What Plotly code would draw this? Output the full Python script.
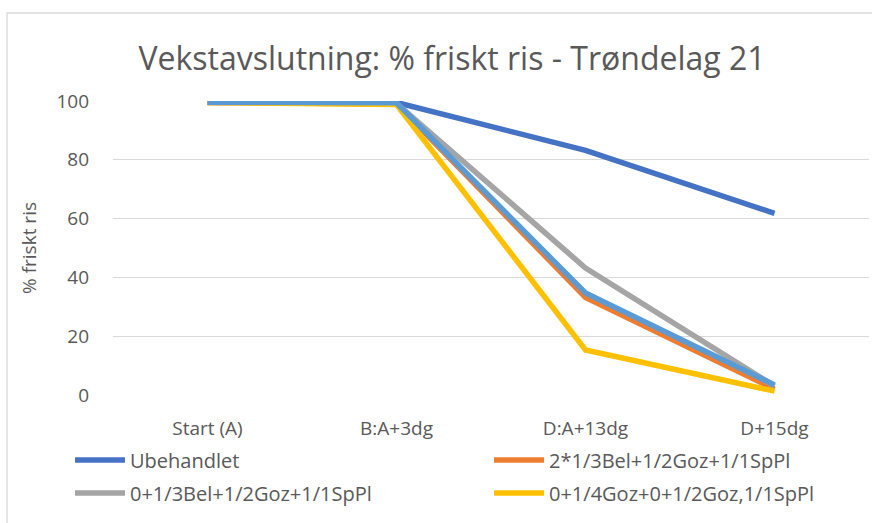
import plotly.graph_objects as go

categories = ["Start (A)", "B:A+3dg", "D:A+13dg", "D+15dg"]
ubehandlet = [99.6, 99.5, 83.2, 61.8]
serie_2bel = [99.5, 99.0, 33.2, 2.0]
serie_0bel = [99.5, 99.2, 43.2, 3.0]
serie_4goz = [99.5, 98.8, 15.3, 1.3]
serie_5 = [99.6, 99.4, 34.7, 3.4]

names = ["Ubehandlet", "2*1/3Bel+1/2Goz+1/1SpPl", "0+1/3Bel+1/2Goz+1/1SpPl", "0+1/4Goz+0+1/2Goz,1/1SpPl"]
y_ticks = [0, 20, 40, 60, 80, 100]

FONT = "Open Sans"
TXT = "#595959"
LW = 5.5

fig = go.Figure()
fig.add_trace(go.Scatter(x=categories, y=ubehandlet, name=names[0], mode="lines",
                         line=dict(color="#4472C4", width=LW), legend="legend"))
fig.add_trace(go.Scatter(x=categories, y=serie_2bel, name=names[1], mode="lines",
                         line=dict(color="#ED7D31", width=LW), legend="legend2"))
fig.add_trace(go.Scatter(x=categories, y=serie_0bel, name=names[2], mode="lines",
                         line=dict(color="#A5A5A5", width=LW), legend="legend3"))
fig.add_trace(go.Scatter(x=categories, y=serie_4goz, name=names[3], mode="lines",
                         line=dict(color="#FFC000", width=LW), legend="legend4"))
fig.add_trace(go.Scatter(x=categories, y=serie_5, name="Serie5", mode="lines",
                         line=dict(color="#5B9BD5", width=LW), showlegend=False))

L, R, T, B = 113, 3, 101, 128
W, H = 872, 523
pw, ph = W - L - R, H - T - B

def px(x):
    return (x - L) / pw

def py(y):
    return (H - B - y) / ph

def cx(x):
    return x / W

def cy(y):
    return 1 - y / H

leg_common = dict(orientation="h", xref="container", yref="container", xanchor="left", yanchor="middle",
                  font=dict(size=20, color=TXT), bgcolor="rgba(0,0,0,0)", itemwidth=50, borderwidth=0)

fig.update_layout(
    width=W, height=H,
    margin=dict(l=L, r=R, t=T, b=B, autoexpand=False),
    paper_bgcolor="white", plot_bgcolor="white",
    font=dict(family=FONT, color=TXT, size=19),
    title=dict(text="Vekstavslutning: % friskt ris - Trøndelag 21", xref="container", yref="container",
               x=cx(452), xanchor="center", y=cy(59), yanchor="middle",
               font=dict(size=32, color=TXT, family=FONT)),
    xaxis=dict(type="category", range=[-0.5, 3.5], showgrid=False, showline=False, zeroline=False,
               tickfont=dict(size=19, color=TXT), ticklabelstandoff=20, fixedrange=True),
    yaxis=dict(range=[0, 100], tickvals=y_ticks, showgrid=True, gridcolor="#D9D9D9", gridwidth=1.3,
               zeroline=False, showline=False, tickfont=dict(size=19, color=TXT),
               ticklabelstandoff=23, fixedrange=True,
               title=dict(text="% friskt ris", font=dict(size=19, color=TXT), standoff=14)),
    legend=dict(leg_common, x=cx(70), y=cy(460)),
    legend2=dict(leg_common, x=cx(489), y=cy(460)),
    legend3=dict(leg_common, x=cx(70), y=cy(493)),
    legend4=dict(leg_common, x=cx(489), y=cy(493)),
    shapes=[dict(type="rect", xref="paper", yref="paper", x0=px(7), x1=px(W + 5),
                 y0=py(H + 5), y1=py(13), line=dict(color="#D9D9D9", width=1.3),
                 fillcolor="rgba(0,0,0,0)", layer="below")],
    showlegend=True,
)

fig.write_html("out.html", config={"displayModeBar": False},
               post_script="document.body.style.margin='0';")
